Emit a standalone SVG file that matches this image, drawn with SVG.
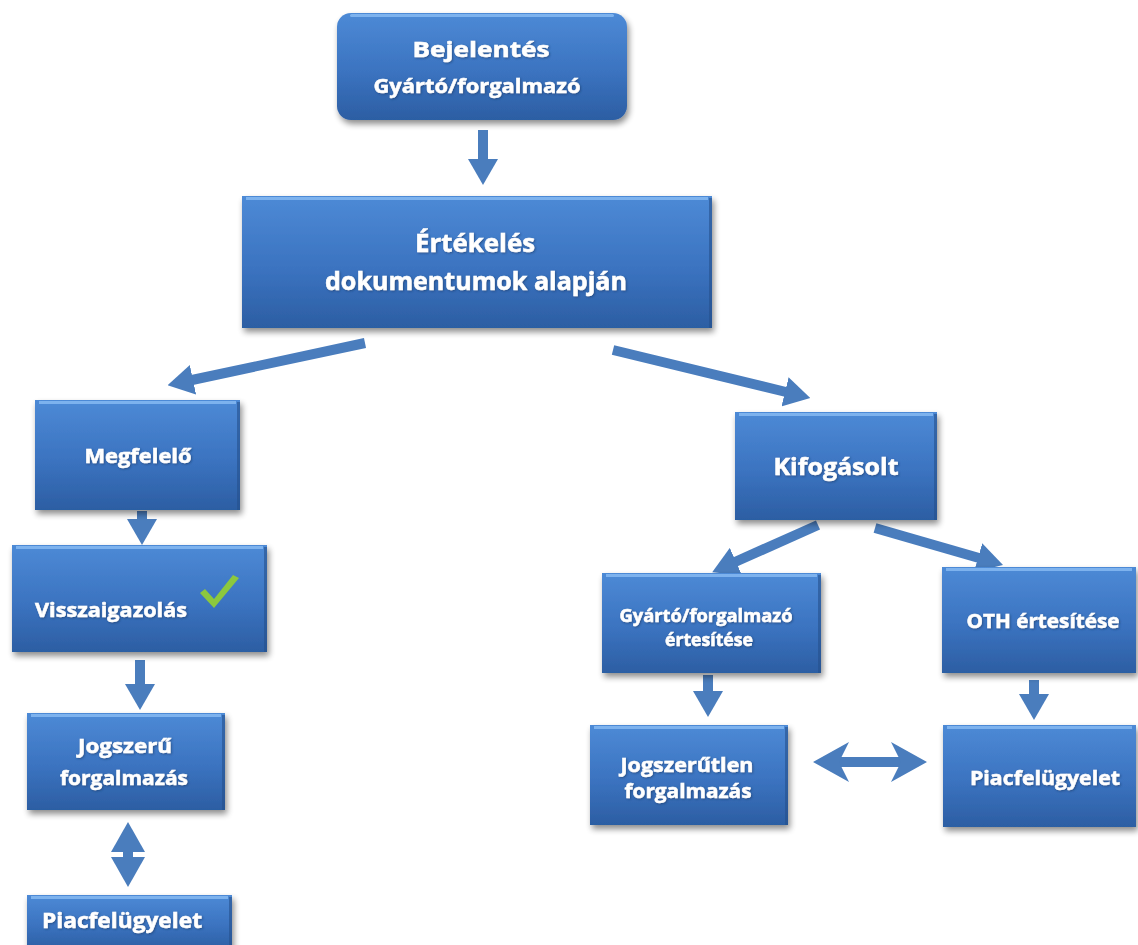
<svg xmlns="http://www.w3.org/2000/svg" width="1138" height="945" viewBox="0 0 1138 945">
<style>
.box{fill:url(#bg);filter:url(#sh)}
.hl{fill:#8ec0f5;opacity:0.75}
.edge{fill:#24508c;opacity:0.6}
.t{font-family:"Open Sans","Liberation Sans",sans-serif;font-weight:bold;fill:#ffffff;stroke:#ffffff;stroke-width:0.5;text-anchor:middle;filter:url(#ts)}
.ts{text-anchor:start}
.ar{stroke:#4a7dbd;stroke-width:10;fill:none}
</style>
<defs>
<linearGradient id="bg" x1="0" y1="0" x2="0" y2="1">
<stop offset="0" stop-color="#4d8ad6"/>
<stop offset="0.55" stop-color="#3b73c0"/>
<stop offset="1" stop-color="#2c5ea3"/>
</linearGradient>
<filter id="sh" x="-10%" y="-10%" width="125%" height="130%">
<feGaussianBlur in="SourceAlpha" stdDeviation="3"/>
<feOffset dx="2" dy="4" result="b"/>
<feComponentTransfer><feFuncA type="linear" slope="0.45"/></feComponentTransfer>
<feMerge><feMergeNode/><feMergeNode in="SourceGraphic"/></feMerge>
</filter>
<filter id="ts" x="-10%" y="-30%" width="120%" height="160%">
<feGaussianBlur in="SourceAlpha" stdDeviation="1.2"/>
<feOffset dx="0.5" dy="1" result="b"/>
<feFlood flood-color="#1d3f70" flood-opacity="0.7"/>
<feComposite in2="b" operator="in"/>
<feMerge><feMergeNode/><feMergeNode in="SourceGraphic"/></feMerge>
</filter>
<marker id="ah" markerUnits="userSpaceOnUse" markerWidth="26" markerHeight="30" viewBox="0 0 26 30" refX="1" refY="15" orient="auto-start-reverse">
<path d="M0,0 L26,15 L0,30 z" fill="#4a7dbd"/>
</marker>
<marker id="ah2" markerUnits="userSpaceOnUse" markerWidth="36" markerHeight="40" viewBox="0 0 36 40" refX="10" refY="20" orient="auto-start-reverse">
<path d="M0,0 L36,20 L0,40 L10,20 z" fill="#4a7dbd"/>
</marker>
<marker id="ah3" markerUnits="userSpaceOnUse" markerWidth="30" markerHeight="34" viewBox="0 0 30 34" refX="1" refY="17" orient="auto-start-reverse">
<path d="M0,0 L30,17 L0,34 z" fill="#4a7dbd"/>
</marker>
</defs>
<rect width="1138" height="945" fill="#ffffff"/>

<g id="connectors">
<line class="ar" x1="483" y1="130" x2="483" y2="160" marker-end="url(#ah)"/>
<line class="ar" x1="365" y1="343" x2="192" y2="380" marker-end="url(#ah)"/>
<line class="ar" x1="613" y1="350" x2="786" y2="392" marker-end="url(#ah)"/>
<line class="ar" x1="142" y1="511" x2="142" y2="520" marker-end="url(#ah)"/>
<line class="ar" x1="140" y1="660" x2="140" y2="685" marker-end="url(#ah)"/>
<line class="ar" x1="128" y1="851" x2="128" y2="858" marker-start="url(#ah3)" marker-end="url(#ah3)"/>
<line class="ar" x1="818" y1="525" x2="735" y2="562" marker-end="url(#ah)"/>
<line class="ar" x1="875" y1="528" x2="979" y2="558" marker-end="url(#ah)"/>
<line class="ar" x1="708" y1="675" x2="708" y2="692" marker-end="url(#ah)"/>
<line class="ar" x1="1034" y1="680" x2="1034" y2="695" marker-end="url(#ah)"/>
<line class="ar" x1="839" y1="762" x2="901" y2="762" marker-start="url(#ah2)" marker-end="url(#ah2)"/>
</g>

<g id="n-bejelentes">
<rect class="box" x="337" y="13" width="290" height="107" rx="14"/>
<rect class="hl" x="350" y="14" width="264" height="3" rx="1.5"/>
<text class="t" x="481" y="57" font-size="22" textLength="137" lengthAdjust="spacingAndGlyphs">Bejelentés</text>
<text class="t" x="477" y="93" font-size="20" textLength="207" lengthAdjust="spacingAndGlyphs">Gyártó/forgalmazó</text>
</g>

<g id="n-ertekeles">
<rect class="box" x="242" y="196" width="470" height="132"/>
<rect class="hl" x="246" y="197" width="462" height="3"/>
<rect class="edge" x="709" y="198" width="3" height="130"/>
<text class="t" x="475" y="252" font-size="25" textLength="120" lengthAdjust="spacingAndGlyphs">Értékelés</text>
<text class="t" x="476" y="290" font-size="25" textLength="302" lengthAdjust="spacingAndGlyphs">dokumentumok alapján</text>
</g>

<g id="n-megfelelo">
<rect class="box" x="35" y="400" width="205" height="110"/>
<rect class="hl" x="39" y="401" width="197" height="3"/>
<rect class="edge" x="237" y="402" width="3" height="108"/>
<text class="t" x="138" y="463" font-size="19" textLength="107" lengthAdjust="spacingAndGlyphs">Megfelelő</text>
</g>

<g id="n-visszaigazolas">
<rect class="box" x="12" y="545" width="255" height="107"/>
<rect class="hl" x="16" y="546" width="247" height="3"/>
<rect class="edge" x="264" y="547" width="3" height="105"/>
<text class="t ts" x="35" y="617" font-size="20" textLength="152" lengthAdjust="spacingAndGlyphs">Visszaigazolás</text>
<path d="M200,593 L205,589 L214,599 L233,575 L239,578 L214,608 z" fill="#8cc83e"/>
</g>

<g id="n-jogszeru">
<rect class="box" x="27" y="713" width="198" height="97"/>
<rect class="hl" x="31" y="714" width="190" height="3"/>
<rect class="edge" x="222" y="715" width="3" height="95"/>
<text class="t" x="125" y="753" font-size="20" textLength="94" lengthAdjust="spacingAndGlyphs">Jogszerű</text>
<text class="t" x="124" y="785" font-size="20" textLength="128" lengthAdjust="spacingAndGlyphs">forgalmazás</text>
</g>

<g id="n-piac-left">
<rect class="box" x="27" y="895" width="205" height="55"/>
<rect class="hl" x="31" y="896" width="197" height="3"/>
<rect class="edge" x="229" y="897" width="3" height="53"/>
<text class="t" x="122" y="928" font-size="22" textLength="160" lengthAdjust="spacingAndGlyphs">Piacfelügyelet</text>
</g>

<g id="n-kifogasolt">
<rect class="box" x="735" y="412" width="202" height="108"/>
<rect class="hl" x="739" y="413" width="194" height="3"/>
<rect class="edge" x="934" y="414" width="3" height="106"/>
<text class="t" x="836" y="475" font-size="23" textLength="125" lengthAdjust="spacingAndGlyphs">Kifogásolt</text>
</g>

<g id="n-gyarto-ertesitese">
<rect class="box" x="602" y="573" width="219" height="100"/>
<rect class="hl" x="606" y="574" width="211" height="3"/>
<rect class="edge" x="818" y="575" width="3" height="98"/>
<text class="t" x="706" y="622" font-size="17" textLength="173" lengthAdjust="spacingAndGlyphs">Gyártó/forgalmazó</text>
<text class="t" x="709" y="646" font-size="17" textLength="88" lengthAdjust="spacingAndGlyphs">értesítése</text>
</g>

<g id="n-oth">
<rect class="box" x="942" y="567" width="194" height="106"/>
<rect class="hl" x="946" y="568" width="186" height="3"/>
<text class="t" x="1043" y="628" font-size="20" textLength="153" lengthAdjust="spacingAndGlyphs">OTH értesítése</text>
</g>

<g id="n-jogszerutlen">
<rect class="box" x="590" y="725" width="198" height="100"/>
<rect class="hl" x="594" y="726" width="190" height="3"/>
<rect class="edge" x="785" y="727" width="3" height="98"/>
<text class="t" x="687" y="772" font-size="20" textLength="133" lengthAdjust="spacingAndGlyphs">Jogszerűtlen</text>
<text class="t" x="688" y="798" font-size="20" textLength="127" lengthAdjust="spacingAndGlyphs">forgalmazás</text>
</g>

<g id="n-piac-right">
<rect class="box" x="943" y="725" width="193" height="102"/>
<rect class="hl" x="947" y="726" width="185" height="3"/>
<text class="t" x="1045" y="785" font-size="20" textLength="150" lengthAdjust="spacingAndGlyphs">Piacfelügyelet</text>
</g>
</svg>
